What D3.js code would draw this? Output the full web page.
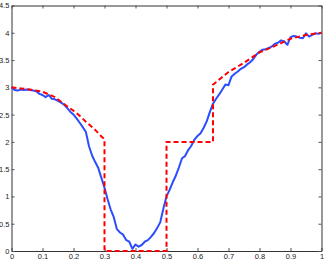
<!DOCTYPE html>
<html>
<head>
<meta charset="utf-8">
<script src="https://cdn.jsdelivr.net/npm/d3@7"></script>
<style>
  body { margin: 0; background: #fff; }
  .tick text { font-family: "Liberation Sans", Arial, sans-serif; font-size: 7.5px; fill: #222; }
</style>
</head>
<body>
<script>
// measured signal, sampled every 0.01 from 0 to 1
var measured = [
  3.00, 2.95, 2.94, 2.96, 2.95, 2.96, 2.95, 2.94, 2.93, 2.88,
  2.86, 2.82, 2.86, 2.79, 2.78, 2.75, 2.72, 2.68, 2.62, 2.55,
  2.50, 2.43, 2.35, 2.27, 2.18, 1.92, 1.75, 1.63, 1.52, 1.34,
  1.16, 0.95, 0.76, 0.62, 0.40, 0.34, 0.30, 0.20, 0.17, 0.04,
  0.12, 0.08, 0.11, 0.17, 0.20, 0.26, 0.33, 0.42, 0.53, 0.78,
  1.00, 1.12, 1.26, 1.38, 1.53, 1.70, 1.74, 1.85, 1.93, 2.04,
  2.11, 2.16, 2.26, 2.38, 2.55, 2.70, 2.79, 2.87, 2.96, 3.05,
  3.04, 3.20, 3.25, 3.29, 3.34, 3.37, 3.42, 3.46, 3.52, 3.60,
  3.65, 3.69, 3.70, 3.72, 3.75, 3.80, 3.82, 3.86, 3.84, 3.78,
  3.92, 3.94, 3.93, 3.91, 3.90, 3.99, 3.93, 3.96, 3.99, 3.98,
  4.00
];

// piecewise reference (red dashed)
var refX = [0, 0.03, 0.06, 0.1, 0.14, 0.18, 0.21, 0.24, 0.27, 0.29, 0.3, 0.3, 0.5, 0.5, 0.65, 0.65, 0.7, 0.75, 0.8, 0.85, 0.9, 0.95, 1.0];
var refY = [3.0, 2.98, 2.96, 2.92, 2.82, 2.65, 2.53, 2.37, 2.22, 2.10, 2.05, 0, 0, 2.0, 2.0, 3.05, 3.28, 3.45, 3.64, 3.76, 3.89, 3.96, 4.0];

var xTicks = [0, 0.1, 0.2, 0.3, 0.4, 0.5, 0.6, 0.7, 0.8, 0.9, 1];
var yTicks = [0, 0.5, 1, 1.5, 2, 2.5, 3, 3.5, 4, 4.5];

var width = 327, height = 260;
var margin = { top: 5.5, right: 5.5, bottom: 9, left: 11.5 };

var svg = d3.select("body").append("svg")
  .attr("width", width)
  .attr("height", height);

var x = d3.scaleLinear().domain([0, 1]).range([margin.left, width - margin.right]);
var y = d3.scaleLinear().domain([0, 4.5]).range([height - margin.bottom, margin.top]);

var fmt = function (d) { return String(d); };

// bottom axis with labels
svg.append("g")
  .attr("transform", "translate(0," + y(0) + ")")
  .call(d3.axisBottom(x).tickValues(xTicks).tickFormat(fmt).tickSizeInner(-3).tickSizeOuter(0).tickPadding(3));
// left axis with labels
svg.append("g")
  .attr("transform", "translate(" + x(0) + ",0)")
  .call(d3.axisLeft(y).tickValues(yTicks).tickFormat(fmt).tickSizeInner(-3).tickSizeOuter(0).tickPadding(2));
// top & right, ticks only
svg.append("g")
  .attr("transform", "translate(0," + y(4.5) + ")")
  .call(d3.axisTop(x).tickValues(xTicks).tickFormat("").tickSizeInner(-3).tickSizeOuter(0));
svg.append("g")
  .attr("transform", "translate(" + x(1) + ",0)")
  .call(d3.axisRight(y).tickValues(yTicks).tickFormat("").tickSizeInner(-3).tickSizeOuter(0));

svg.selectAll(".domain").attr("stroke", "#333");
svg.selectAll(".tick line").attr("stroke", "#555");

var line = d3.line()
  .x(function (d) { return x(d[0]); })
  .y(function (d) { return y(d[1]); });

var refPts = refX.map(function (v, i) { return [v, refY[i]]; });
var measPts = measured.map(function (v, i) { return [i / 100, v]; });

svg.append("path")
  .datum(measPts)
  .attr("d", line)
  .attr("fill", "none")
  .attr("stroke", "#2c4dff")
  .attr("stroke-width", 2)
  .attr("stroke-linejoin", "round");

svg.append("path")
  .datum(refPts)
  .attr("d", line)
  .attr("fill", "none")
  .attr("stroke", "#ff0000")
  .attr("stroke-width", 2)
  .attr("stroke-dasharray", "5,3");
</script>
</body>
</html>
